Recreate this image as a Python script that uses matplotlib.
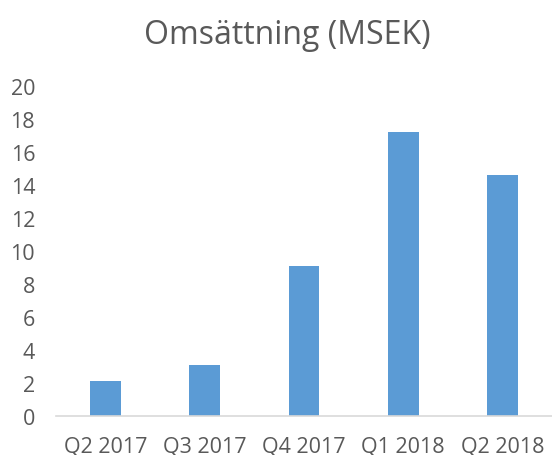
import matplotlib
matplotlib.use("Agg")
import matplotlib.pyplot as plt

quarters = ["Q2 2017", "Q3 2017", "Q4 2017", "Q1 2018", "Q2 2018"]
revenue = [2.1, 3.1, 9.1, 17.2, 14.6]
yticks = [0, 2, 4, 6, 8, 10, 12, 14, 16, 18, 20]

plt.rcParams["font.family"] = ["Open Sans", "DejaVu Sans"]
text_color = "#595959"

fig = plt.figure(figsize=(5.52, 4.56), dpi=100)
ax = fig.add_axes([0.1014, 0.0855, 0.8986, 0.7245])

x = range(len(quarters))
ax.bar(x, revenue, width=0.31, color="#5B9BD5")

ax.set_xlim(-0.5, len(quarters) - 0.5)
ax.set_ylim(0, 20)
ax.set_yticks(yticks)
ax.set_xticks(list(x))
ax.set_xticklabels(quarters)

for side in ["top", "right", "left"]:
    ax.spines[side].set_visible(False)
ax.spines["bottom"].set_color("#D9D9D9")
ax.spines["bottom"].set_linewidth(1.2)

ax.tick_params(axis="both", length=0, labelsize=15.5, labelcolor=text_color)
ax.tick_params(axis="y", pad=15)
ax.tick_params(axis="x", pad=14)

fig.text(0.52, 0.923, "Omsättning (MSEK)", ha="center", va="center",
         fontsize=23, color=text_color)

fig.savefig("out.png", dpi=100)
